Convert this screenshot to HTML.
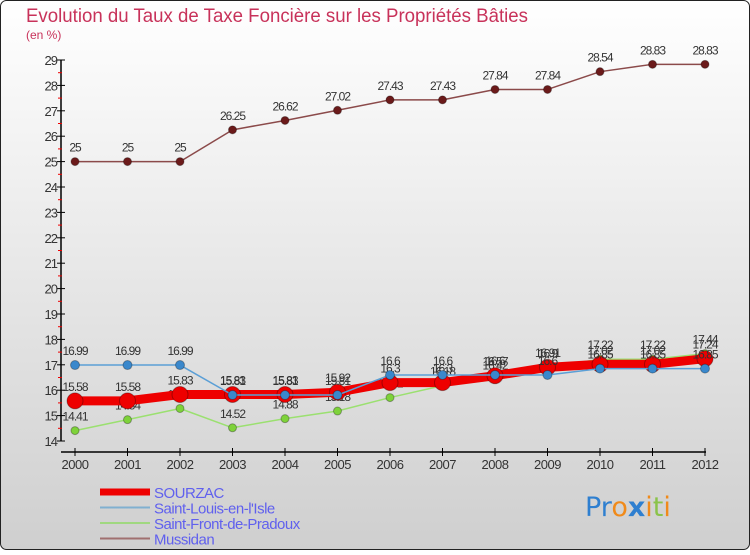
<!DOCTYPE html>
<html><head><meta charset="utf-8"><style>
html,body{margin:0;padding:0;}
body{width:750px;height:550px;overflow:hidden;font-family:"Liberation Sans",sans-serif;}
</style></head><body>
<svg id="chart" width="750" height="550" xmlns="http://www.w3.org/2000/svg">
<defs><linearGradient id="bg" x1="0" y1="0" x2="0" y2="1"><stop offset="0" stop-color="#ffffff"/><stop offset="1" stop-color="#cfcfcf"/></linearGradient></defs>
<rect x="0.5" y="0.5" width="749" height="549" rx="6" fill="url(#bg)" stroke="#222"/>
<text x="26" y="22" font-size="19" fill="#c8325a" textLength="502" lengthAdjust="spacingAndGlyphs">Evolution du Taux de Taxe Foncière sur les Propriétés Bâties</text>
<text x="26" y="39" font-size="12" fill="#c8325a">(en %)</text>
<g id="axes"></g><g id="series"></g><g id="legend"></g>
<text x="585" y="516" font-size="27" font-family="DejaVu Sans, sans-serif"><tspan fill="#2e7fd0">Pr</tspan><tspan fill="#f08a1a">o</tspan><tspan fill="#2e7fd0" font-weight="bold">x</tspan><tspan fill="#f08a1a">i</tspan><tspan fill="#8bc34a">t</tspan><tspan fill="#f08a1a">i</tspan></text>
</svg>
<script>
const years=[2000,2001,2002,2003,2004,2005,2006,2007,2008,2009,2010,2011,2012];
const yTicks=[14,15,16,17,18,19,20,21,22,23,24,25,26,27,28,29];
const sourzac=[15.58,15.58,15.83,15.83,15.83,15.92,16.3,16.3,16.57,16.9,17.02,17.02,17.24];
const stLouis=[16.99,16.99,16.99,15.81,15.81,15.81,16.6,16.6,16.6,16.6,16.85,16.85,16.85];
const stFront=[14.41,14.84,15.28,14.52,14.88,15.18,15.71,16.18,16.42,16.91,17.22,17.22,17.44];
const mussidan=[25,25,25,26.25,26.62,27.02,27.43,27.43,27.84,27.84,28.54,28.83,28.83];
const NS='http://www.w3.org/2000/svg';
const xs=i=>75+i*52.5;
const ys=v=>441-(v-14)*25.4;
function mk(tag,attrs,parent){const e=document.createElementNS(NS,tag);for(const k in attrs)e.setAttribute(k,attrs[k]);parent.appendChild(e);return e;}
const axes=document.getElementById('axes');
let a=mk('line',{x1:61,y1:60,x2:61,y2:441,stroke:'#000','stroke-width':1.5},axes);


a=mk('line',{x1:61,y1:452,x2:706,y2:452,stroke:'#000','stroke-width':1.5},axes);


yTicks.forEach(v=>{
  mk('line',{x1:57,y1:ys(v),x2:65,y2:ys(v),stroke:'#000'},axes);
  if(v<29) mk('line',{x1:58,y1:ys(v+0.5),x2:62,y2:ys(v+0.5),stroke:'#e00'},axes);
  const t=mk('text',{x:57,y:ys(v)+5,'font-size':13,fill:'#333','text-anchor':'end','letter-spacing':'-1'},axes);
  t.textContent=v;
  
  
});
years.forEach((y,i)=>{
  mk('line',{x1:xs(i),y1:448,x2:xs(i),y2:456,stroke:'#000'},axes);
  const t=mk('text',{x:xs(i),y:469,'font-size':13,fill:'#333','text-anchor':'middle','letter-spacing':'-0.5'},axes);
  t.textContent=y;
  
  
});
const sg=document.getElementById('series');
function draw(vals,color,dot,w,r,name){
  const g=mk('g',{},sg);
  
  
  mk('polyline',{points:vals.map((v,i)=>xs(i)+','+ys(v)).join(' '),fill:'none',stroke:color,'stroke-width':w,'stroke-linejoin':'round'},g);
  vals.forEach((v,i)=>{
    const c=mk('circle',{cx:xs(i),cy:ys(v),r:r,fill:dot,stroke:'rgba(0,0,0,0.3)'},g);
    
    
    const t=mk('text',{x:xs(i),y:ys(v)-10,'font-size':12,fill:'#333','text-anchor':'middle','letter-spacing':'-1'},g);
    t.textContent=v;
    
    
  });
}
draw(mussidan,'#8b4a4a','#6b1a1a',1.5,4,'mussidan-series');
draw(stFront,'#9be070','#7ed23a',1.5,4,'saint-front-series');
draw(sourzac,'#ee0000','#ee0000',9,8,'sourzac-series');
draw(stLouis,'#5b9fd6','#3a88cc',1.5,4.5,'saint-louis-series');
const lg=document.getElementById('legend');
const items=[['SOURZAC','#ee0000',7],["Saint-Louis-en-l'Isle",'#80b0d0',2],['Saint-Front-de-Pradoux','#a0d880',2],['Mussidan','#a07070',2]];
items.forEach((it,i)=>{
  const y=492+i*15.5;
  const g=mk('g',{},lg);
  
  
  mk('line',{x1:100,y1:y,x2:150,y2:y,stroke:it[1],'stroke-width':it[2]},g);
  const t=mk('text',{x:154,y:y+6,'font-size':15,fill:'#6060ee','letter-spacing':'-0.5'},g);
  t.textContent=it[0];
});
</script>
</body></html>
